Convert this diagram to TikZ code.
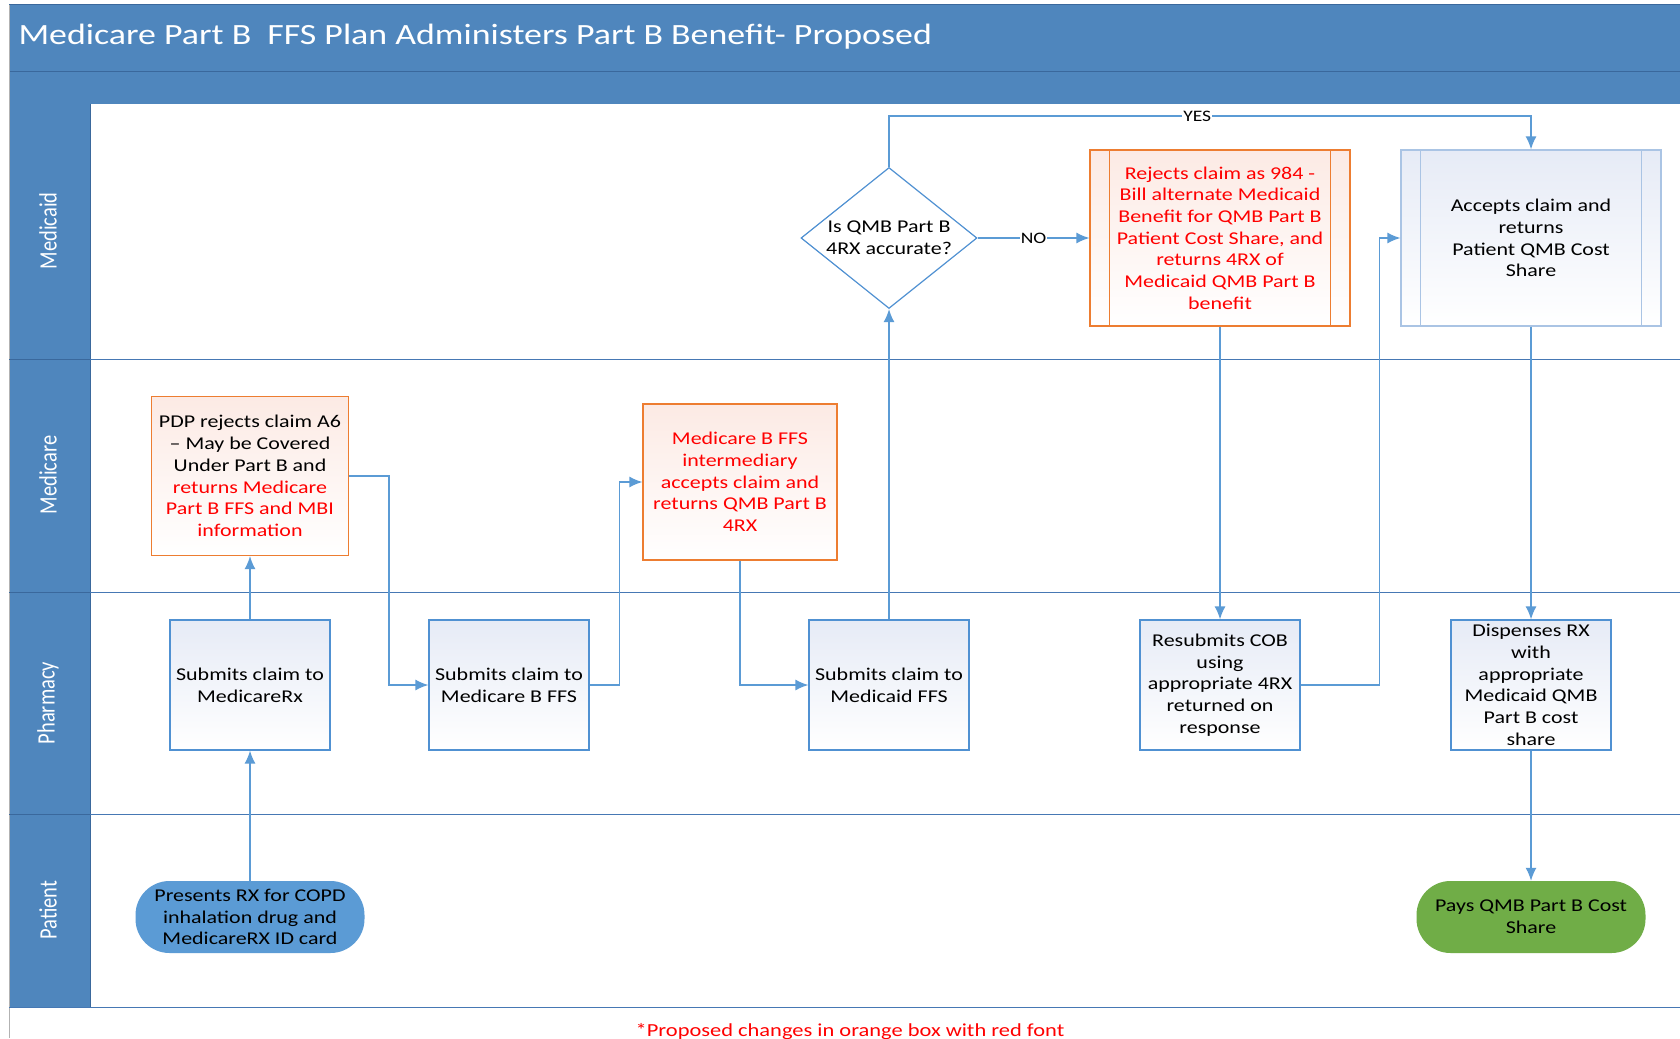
\documentclass[tikz,border=0pt]{standalone}
\usepackage{fontspec}
\setmainfont{Carlito}[FakeStretch=1.22]
\newfontfamily\lanefont{Carlito}[FakeStretch=0.82]
\usetikzlibrary{shapes.geometric, arrows.meta, positioning}
\definecolor{hdrblue}{RGB}{79, 134, 189}
\definecolor{hdrline}{RGB}{58, 104, 156}
\definecolor{laneline}{RGB}{70, 120, 180}
\definecolor{flowblue}{RGB}{91, 155, 213}
\definecolor{boxline}{RGB}{80, 145, 210}
\definecolor{boxtop}{RGB}{230, 235, 246}
\definecolor{orangeline}{RGB}{237, 125, 49}
\definecolor{pinktop}{RGB}{252, 234, 228}
\definecolor{paleline}{RGB}{170, 196, 228}
\definecolor{patblue}{RGB}{91, 155, 213}
\definecolor{patgreen}{RGB}{112, 173, 71}
\definecolor{redtext}{RGB}{255, 0, 0}
\newcommand{\boxfont}{\fontsize{18}{21.7}\selectfont}
\newcommand{\rd}[1]{\textcolor{redtext}{#1}}

\begin{document}
\begin{tikzpicture}[x=1pt, y=-1pt,
    flow/.style={draw=flowblue, line width=1.5pt, -{Latex[length=13pt, width=11pt]}},
    stepbox/.style={draw=boxline, line width=1.2pt, top color=boxtop, bottom color=white,
        minimum width=160pt, minimum height=130pt, align=center, font=\boxfont, inner sep=2pt},
    newbox/.style={draw=orangeline, line width=1.2pt, top color=pinktop, bottom color=white,
        align=center, font=\boxfont, text=redtext, inner sep=2pt},
    procbox/.style={stepbox, minimum width=260pt, minimum height=176pt},
    decision/.style={diamond, draw=boxline, line width=1.2pt, fill=white, minimum width=176pt,
        minimum height=141pt, inner xsep=-14pt, inner ysep=0pt, align=center, font=\boxfont},
    terminal/.style={rounded corners=34pt, minimum width=229pt, minimum height=72pt,
        inner sep=0pt, align=center, font=\boxfont},
    lanelbl/.style={rotate=90, text=white, font=\lanefont\fontsize{25}{28}\selectfont},
    answer/.style={fill=white, inner sep=1pt, font=\fontsize{16}{18}\selectfont}]

\useasboundingbox (0,0) rectangle (1680,1038);
\fill[white] (0,0) rectangle (1680,1038);

\fill[hdrblue] (9,5) rectangle (1680,104);
\draw[hdrline, line width=1pt] (9,5) -- (1680,5);
\draw[hdrline, line width=1pt] (9,72) -- (1680,72);
\fill[hdrblue] (9,104) rectangle (90,1007);
\draw[hdrline, line width=1pt] (90,104) -- (90,1007);
\draw[gray!60, line width=1pt] (9,5) -- (9,1038);
\node[anchor=west, text=white, font=\fontsize{29.4}{34}\selectfont] (title) at (15,37)
    {Medicare Part B\ \ FFS Plan Administers Part B Benefit- Proposed};

\foreach \y in {359, 592, 814} {
    \draw[hdrline, line width=0.8pt] (9,\y) -- (90,\y);
    \draw[laneline, line width=1pt] (90,\y) -- (1680,\y);
}
\draw[laneline, line width=1pt] (9,1007) -- (1680,1007);

\node[lanelbl] (lmedicaid) at (48,231) {Medicaid};
\node[lanelbl] (lmedicare) at (48,475) {Medicare};
\node[lanelbl] (lpharmacy) at (48,703) {Pharmacy};
\node[lanelbl] (lpatient) at (48,910) {Patient};

\node[terminal, fill=patblue] (presents) at (250,917)
    {Presents RX for COPD\\inhalation drug and\\MedicareRX ID card};
\node[terminal, fill=patgreen] (pays) at (1531,917) {Pays QMB Part B Cost\\Share};

\node[stepbox] (rxbox) at (250,685) {Submits claim to\\MedicareRx};
\node[stepbox] (bffs) at (509,685) {Submits claim to\\Medicare B FFS};
\node[stepbox] (mfs) at (889,685) {Submits claim to\\Medicaid FFS};
\node[stepbox] (resub) at (1220,685)
    {Resubmits COB\\using\\appropriate 4RX\\returned on\\response};
\node[stepbox] (dispense) at (1531,685)
    {Dispenses RX\\with\\appropriate\\Medicaid QMB\\Part B cost\\share};

\node[newbox, text=black, minimum width=197pt, minimum height=159pt] (pdp) at (250,476)
    {PDP rejects claim A6\\-- May be Covered\\Under Part B and\\\rd{returns Medicare}\\\rd{Part B FFS and MBI}\\\rd{information}};
\node[newbox, minimum width=194pt, minimum height=156pt] (mbffs) at (740,482)
    {Medicare B FFS\\intermediary\\accepts claim and\\returns QMB Part B\\4RX};

\node[decision] (qmb) at (889,238) {Is QMB Part B\\4RX accurate?};
\node[newbox, minimum width=260pt, minimum height=176pt] (reject) at (1220,238)
    {Rejects claim as 984 -\\Bill alternate Medicaid\\Benefit for QMB Part B\\Patient Cost Share, and\\returns 4RX of\\Medicaid QMB Part B\\benefit};
\node[procbox, draw=paleline] (accept) at (1531,238)
    {Accepts claim and\\returns\\Patient QMB Cost\\Share};

\draw[orangeline, line width=1.2pt] ([xshift=20pt]reject.north west) -- ([xshift=20pt]reject.south west);
\draw[orangeline, line width=1.2pt] ([xshift=-20pt]reject.north east) -- ([xshift=-20pt]reject.south east);
\draw[paleline, line width=1.2pt] ([xshift=20pt]accept.north west) -- ([xshift=20pt]accept.south west);
\draw[paleline, line width=1.2pt] ([xshift=-20pt]accept.north east) -- ([xshift=-20pt]accept.south east);

\draw[flow] (presents) -- (rxbox);
\draw[flow] (rxbox) -- (pdp);
\draw[flow] (pdp.east) -- ++(40,0) |- (bffs.west);
\draw[flow] (bffs.east) -- ++(30,0) |- (mbffs.west);
\draw[flow] (mbffs.south) |- (mfs.west);
\draw[flow] (mfs) -- (qmb);
\draw[flow] (qmb.north) -- ++(0,-51) -| (accept.north) node[answer, pos=0.24] {YES};
\draw[flow] (qmb.east) -- (reject.west) node[answer, midway] {NO};
\draw[flow] (reject) -- (resub);
\draw[flow] (resub.east) -- ++(79,0) |- (accept.west);
\draw[flow] (accept) -- (dispense);
\draw[flow] (dispense) -- (pays);

\node[text=redtext, font=\fontsize{18.4}{21}\selectfont, anchor=base] (note) at (850,1036)
    {*Proposed changes in orange box with red font};
\end{tikzpicture}
\end{document}
